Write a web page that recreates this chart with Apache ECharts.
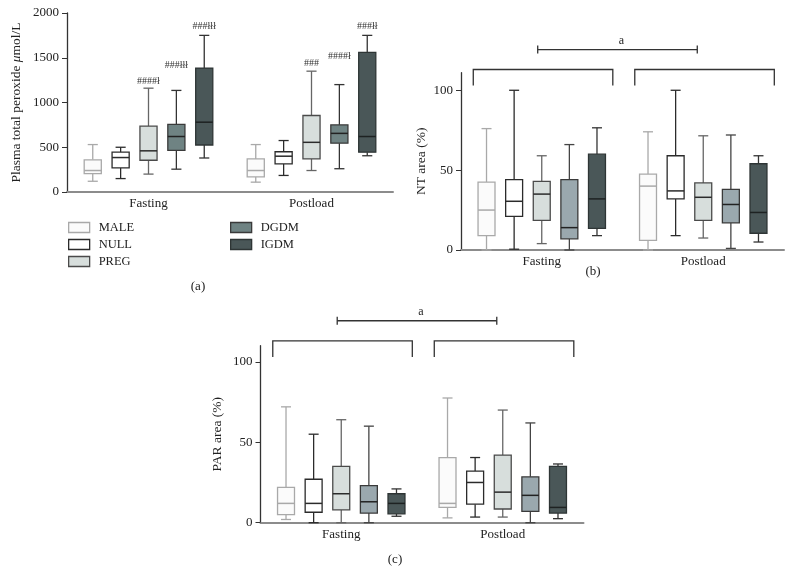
<!DOCTYPE html>
<html><head><meta charset="utf-8">
<script src="https://cdn.jsdelivr.net/npm/echarts@6/dist/echarts.min.js"></script>
<style>html,body{margin:0;padding:0;background:#fff}#c{width:794px;height:587px}</style>
</head><body><div id="c"></div>
<script>
const categories = ['Fasting', 'Postload'];
const groups = ['MALE', 'NULL', 'PREG', 'DGDM', 'IGDM'];

// each entry: [min, Q1, median, Q3, max] for Fasting, Postload
const peroxideMALE = [[120, 205, 240, 360, 530], [110, 170, 240, 370, 530]];
const peroxideNULL = [[150, 270, 385, 445, 500], [185, 315, 400, 450, 575]];
const peroxidePREG = [[200, 355, 460, 735, 1160], [240, 370, 555, 855, 1350]];
const peroxideDGDM = [[255, 465, 620, 755, 1135], [260, 545, 655, 750, 1200]];
const peroxideIGDM = [[380, 525, 780, 1385, 1750], [405, 445, 620, 1560, 1750]];

const ntMALE = [[0, 9, 25, 42.5, 76], [0, 6, 40, 47.5, 74]];
const ntNULL = [[0.5, 21, 30.5, 44, 100], [9, 32, 37, 59, 100]];
const ntPREG = [[4, 18.5, 35, 43, 59], [7.5, 18.5, 33, 42, 71.5]];
const ntDGDM = [[0, 7, 14, 44, 66], [1, 17, 28.5, 38, 72]];
const ntIGDM = [[9, 13.5, 32, 60, 76.5], [5, 10.5, 23.5, 54, 59]];

const parMALE = [[2, 5, 12, 22, 72], [3, 9.5, 12, 40.5, 77.5]];
const parNULL = [[0, 6.5, 12, 27, 55], [3.5, 11.5, 25, 32, 40.5]];
const parPREG = [[0, 8, 18, 35, 64], [3.5, 8.5, 19, 42, 70]];
const parDGDM = [[0, 6, 13, 23, 60], [0, 7, 17, 28.5, 62]];
const parIGDM = [[4, 5.5, 12, 18, 21], [2.5, 6, 9.5, 35, 36.5]];

// significance marks in panel (a): text and the value level where it sits
const peroxideMarkFasting = ['', '', '####ł', '###łłł', '###łłł'];
const peroxideMarkPostload = ['', '', '###', '####ł', '###łł'];
const peroxideMarkLevelFasting = [null, null, 1240, 1420, 1855];
const peroxideMarkLevelPostload = [null, null, 1440, 1520, 1845];

// group brackets (b),(c): [bottom of legs, top], and the comparison bar level
const bracketLevels = [103, 113];
const compareLevel = 125.5;
const compareLabel = 'a';

const FONT = '"Liberation Serif", "DejaVu Serif", serif';

const styleA = [
  { fill: '#fbfbfb', stroke: '#a9a9a9', median: '#a9a9a9', whisker: '#a9a9a9' },
  { fill: '#ffffff', stroke: '#2b2b2b', median: '#2b2b2b', whisker: '#2b2b2b' },
  { fill: '#d7dedc', stroke: '#4a4a4a', median: '#2b2b2b', whisker: '#666666' },
  { fill: '#6f8383', stroke: '#3a3a3a', median: '#222222', whisker: '#333333' },
  { fill: '#4a5758', stroke: '#2e3535', median: '#1e2222', whisker: '#333333' }
];
const styleBC = styleA.map((s, i) => i === 3 ? { fill: '#9aa8ae', stroke: '#3a3a3a', median: '#222222', whisker: '#444444' } : s);

function boxSeries(panel, g, data, st) {
  return {
    type: 'custom', name: groups[g], xAxisIndex: panel, yAxisIndex: panel,
    data: data.map((d, i) => [i, d[0], d[1], d[2], d[3], d[4]]),
    encode: { x: 0, y: [1, 2, 3, 4, 5] },
    clip: false,
    renderItem: function (params, api) {
      const cat = api.value(0);
      const band = api.size([1, 0])[0];
      const cx = api.coord([cat, 0])[0] + (g - 2) * band * 0.171;
      const y = [1, 2, 3, 4, 5].map(k => api.coord([cat, api.value(k)])[1]);
      const bw = band * 0.105 / 2, cw = band * 0.062 / 2;
      const ls = { stroke: st.whisker, lineWidth: 1.3 };
      return {
        type: 'group', children: [
          { type: 'line', shape: { x1: cx, y1: y[3], x2: cx, y2: y[4] }, style: ls },
          { type: 'line', shape: { x1: cx, y1: y[0], x2: cx, y2: y[1] }, style: ls },
          { type: 'line', shape: { x1: cx - cw, y1: y[4], x2: cx + cw, y2: y[4] }, style: ls },
          { type: 'line', shape: { x1: cx - cw, y1: y[0], x2: cx + cw, y2: y[0] }, style: ls },
          { type: 'rect', shape: { x: cx - bw, y: y[3], width: 2 * bw, height: y[1] - y[3] }, style: { fill: st.fill, stroke: st.stroke, lineWidth: 1.3 } },
          { type: 'line', shape: { x1: cx - bw, y1: y[2], x2: cx + bw, y2: y[2] }, style: { stroke: st.median, lineWidth: 1.5 } }
        ]
      };
    }
  };
}

function markSeries() {
  const items = [], texts = [];
  [peroxideMarkFasting, peroxideMarkPostload].forEach((arr, c) => {
    const lv = c === 0 ? peroxideMarkLevelFasting : peroxideMarkLevelPostload;
    arr.forEach((t, g) => { if (t) { items.push([c, lv[g], g]); texts.push(t); } });
  });
  return {
    type: 'custom', xAxisIndex: 0, yAxisIndex: 0, data: items, clip: false, silent: true,
    encode: { x: 0, y: 1 },
    renderItem: function (params, api) {
      const cat = api.value(0), g = api.value(2);
      const band = api.size([1, 0])[0];
      const p = api.coord([cat, api.value(1)]);
      return { type: 'text', x: p[0] + (g - 2) * band * 0.171, y: p[1],
        style: { text: texts[params.dataIndex], align: 'center', verticalAlign: 'middle', font: '10px ' + FONT, fill: '#333' } };
    }
  };
}

function bracketSeries(panel) {
  return {
    type: 'custom', xAxisIndex: panel, yAxisIndex: panel, clip: false, silent: true,
    data: [[0, bracketLevels[0], bracketLevels[1]], [1, bracketLevels[0], bracketLevels[1]]],
    encode: { x: 0, y: [1, 2] },
    renderItem: function (params, api) {
      const cat = api.value(0);
      const band = api.size([1, 0])[0];
      const cx = api.coord([cat, 0])[0] + 0.008 * band;
      const yb = api.coord([cat, api.value(1)])[1];
      const yt = api.coord([cat, api.value(2)])[1];
      const hw = band * 0.432;
      const children = [{ type: 'polyline', shape: { points: [[cx - hw, yb], [cx - hw, yt], [cx + hw, yt], [cx + hw, yb]] }, style: { stroke: '#333', lineWidth: 1.3, fill: null } }];
      if (params.dataIndex === 0) {
        const x0 = api.coord([0, 0])[0] - 0.025 * band;
        const x1 = api.coord([1, 0])[0] - 0.037 * band;
        const yc = api.coord([0, compareLevel])[1];
        children.push({ type: 'line', shape: { x1: x0, y1: yc, x2: x1, y2: yc }, style: { stroke: '#333', lineWidth: 1.3 } });
        children.push({ type: 'line', shape: { x1: x0, y1: yc - 4, x2: x0, y2: yc + 4 }, style: { stroke: '#333', lineWidth: 1.3 } });
        children.push({ type: 'line', shape: { x1: x1, y1: yc - 4, x2: x1, y2: yc + 4 }, style: { stroke: '#333', lineWidth: 1.3 } });
        children.push({ type: 'text', x: (x0 + x1) / 2 + 4, y: yc - 9, style: { text: compareLabel, align: 'center', verticalAlign: 'middle', font: '12px ' + FONT, fill: '#222' } });
      }
      return { type: 'group', children: children };
    }
  };
}

function xAxis(i) {
  return {
    gridIndex: i, type: 'category', data: categories,
    axisTick: { show: false },
    axisLine: { lineStyle: { color: '#8c8c8c', width: 2 } },
    axisLabel: { fontFamily: FONT, fontSize: 13, color: '#222', margin: 5 }
  };
}
function yAxis(i, max, interval, ticks, name, gap) {
  return {
    gridIndex: i, type: 'value', min: 0, max: max, interval: interval,
    splitLine: { show: false },
    axisLine: { show: true, lineStyle: { color: '#333', width: 1.3 } },
    axisTick: { show: true, length: 5, lineStyle: { color: '#333' }, customValues: ticks },
    axisLabel: { fontFamily: FONT, fontSize: 13, color: '#222', margin: 8, customValues: ticks, formatter: v => String(v) },
    name: name, nameLocation: 'middle', nameGap: gap, nameRotate: 90,
    nameTextStyle: { fontFamily: FONT, fontSize: 13.5, color: '#222',
      rich: { n: { fontFamily: FONT, fontSize: 13.5, color: '#222' }, i: { fontFamily: FONT, fontSize: 13.5, fontStyle: 'italic', color: '#222' } } }
  };
}

const series = [];
[peroxideMALE, peroxideNULL, peroxidePREG, peroxideDGDM, peroxideIGDM].forEach((d, g) => series.push(boxSeries(0, g, d, styleA[g])));
[ntMALE, ntNULL, ntPREG, ntDGDM, ntIGDM].forEach((d, g) => series.push(boxSeries(1, g, d, styleBC[g])));
[parMALE, parNULL, parPREG, parDGDM, parIGDM].forEach((d, g) => series.push(boxSeries(2, g, d, styleBC[g])));
series.push(markSeries());
series.push(bracketSeries(1));
series.push(bracketSeries(2));

function legendItems(names) {
  return names.map(n => { const s = styleA[groups.indexOf(n)]; return { name: n, itemStyle: { color: s.fill, borderColor: s.stroke, borderWidth: 1.3 } }; });
}
const legendCommon = { orient: 'vertical', icon: 'rect', itemWidth: 21, itemHeight: 10, itemGap: 4, padding: 0, selectedMode: false,
  textStyle: { fontFamily: FONT, fontSize: 12.5, color: '#222', padding: [0, 0, 0, 4] } };

const chart = echarts.init(document.getElementById('c'), null, { renderer: 'canvas' });
chart.setOption({
  animation: false,
  backgroundColor: '#fff',
  grid: [
    { left: 67, top: 13, width: 326, height: 179, outerBoundsMode: 'none' },
    { left: 461, top: 72.7, width: 323, height: 177.3, outerBoundsMode: 'none' },
    { left: 260.5, top: 345.7, width: 323, height: 177, outerBoundsMode: 'none' }
  ],
  xAxis: [xAxis(0), xAxis(1), xAxis(2)],
  yAxis: [
    yAxis(0, 2000, 500, [0, 500, 1000, 1500, 2000], '{n|Plasma total peroxide }{i|μ}{n|mol/L}', 44),
    yAxis(1, 111, 50, [0, 50, 100], 'NT area (%)', 33),
    yAxis(2, 110, 50, [0, 50, 100], 'PAR area (%)', 36)
  ],
  legend: [
    Object.assign({ left: 68, top: 221, data: legendItems(['MALE', 'NULL', 'PREG']) }, legendCommon),
    Object.assign({ left: 230, top: 221, data: legendItems(['DGDM', 'IGDM']) }, legendCommon)
  ],
  graphic: [
    { type: 'text', x: 198, y: 287, style: { text: '(a)', align: 'center', verticalAlign: 'middle', font: '13px ' + FONT, fill: '#222' } },
    { type: 'text', x: 593, y: 272, style: { text: '(b)', align: 'center', verticalAlign: 'middle', font: '13px ' + FONT, fill: '#222' } },
    { type: 'text', x: 395, y: 560, style: { text: '(c)', align: 'center', verticalAlign: 'middle', font: '13px ' + FONT, fill: '#222' } }
  ],
  series: series
});
</script></body></html>
